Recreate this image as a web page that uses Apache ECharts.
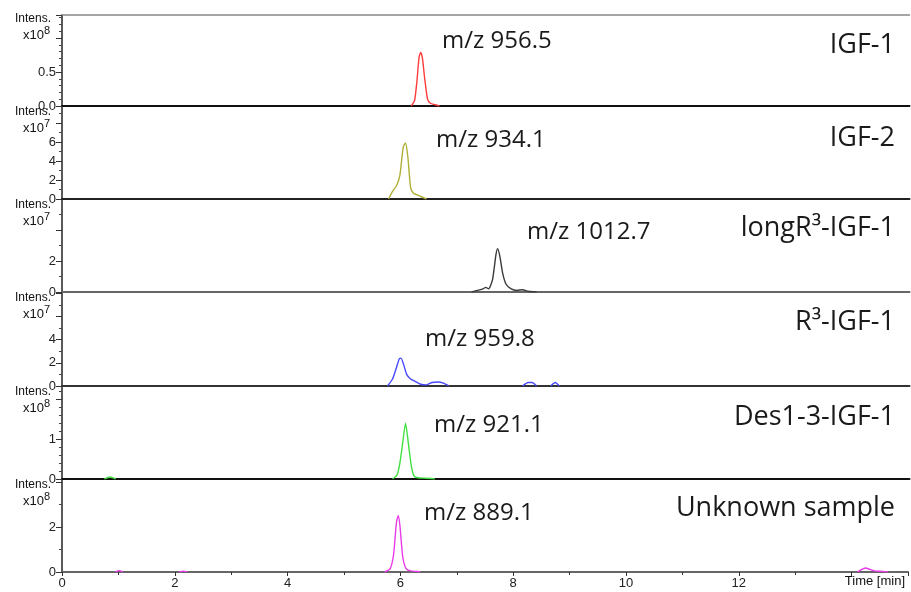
<!DOCTYPE html>
<html><head><meta charset="utf-8">
<script src="https://cdn.jsdelivr.net/npm/echarts@6/dist/echarts.min.js"></script>
<style>html,body{margin:0;padding:0;background:#fff}#c{width:911px;height:592px}</style>
</head><body><div id="c"></div>
<script>
// ---- data ----
const compounds = ['IGF-1', 'IGF-2', 'longR³-IGF-1', 'R³-IGF-1', 'Des1-3-IGF-1', 'Unknown sample'];
const mzLabels = ['m/z 956.5', 'm/z 934.1', 'm/z 1012.7', 'm/z 959.8', 'm/z 921.1', 'm/z 889.1'];
const exponents = ['8', '7', '7', '7', '8', '8'];
const timeMax = 15;
const yMax = [1.34, 9.8, 6.0, 8.1, 2.33, 4.13];
const yInterval = [0.5, 2, 2, 2, 1, 2];
const yLabelMax = [0.5, 6, 2, 4, 1, 2];
const yMinorSplit = [5, 2, 2, 2, 5, 2];

// traces: [time (min), intensity (x10^exp)]
const igf1Peak = [[6.18,0],[6.24,0.08],[6.28,0.35],[6.32,0.72],[6.35,0.79],[6.38,0.7],[6.42,0.4],[6.47,0.1],[6.52,0.04],[6.6,0.02],[6.68,0]];
const igf2Peak = [[5.78,0],[5.85,0.8],[5.92,1.4],[5.98,2.5],[6.04,5.5],[6.08,5.9],[6.12,4.5],[6.17,1.2],[6.22,0.6],[6.3,0.4],[6.45,0]];
const longR3Peak = [[7.25,0],[7.35,0.1],[7.45,0.2],[7.5,0.3],[7.55,0.2],[7.62,0.8],[7.68,2.4],[7.71,2.8],[7.75,2.3],[7.8,1.2],[7.86,0.5],[7.95,0.2],[8.05,0.1],[8.15,0.15],[8.25,0.05],[8.4,0]];
const r3Peak = [[5.76,0],[5.85,0.6],[5.92,1.6],[5.97,2.35],[6.0,2.4],[6.05,1.8],[6.1,1.0],[6.17,0.6],[6.25,0.4],[6.35,0.15],[6.45,0.1],[6.55,0.3],[6.65,0.35],[6.75,0.25],[6.85,0]];
const r3Bump1 = [[8.15,0],[8.25,0.3],[8.32,0.3],[8.4,0]];
const r3Bump2 = [[8.65,0],[8.73,0.3],[8.8,0]];
const des13Peak = [[5.85,0],[5.93,0.1],[5.98,0.4],[6.03,0.9],[6.08,1.4],[6.13,0.9],[6.18,0.35],[6.23,0.08],[6.3,0.03],[6.45,0.02],[6.6,0]];
const des13Bump = [[0.75,0],[0.85,0.05],[0.95,0]];
const unknownPeak = [[5.72,0],[5.82,0.15],[5.88,0.8],[5.93,2.2],[5.96,2.5],[5.99,2.1],[6.04,0.7],[6.1,0.15],[6.18,0.05],[6.3,0.02],[6.35,0]];
const unknownBump1 = [[0.95,0],[1.01,0.06],[1.08,0]];
const unknownBump2 = [[2.08,0],[2.15,0.04],[2.22,0]];
const unknownBump3 = [[14.1,0],[14.25,0.18],[14.4,0.05],[14.55,0.03],[14.65,0]];

const panelTraces = [
  [igf1Peak],
  [igf2Peak],
  [longR3Peak],
  [r3Peak, r3Bump1, r3Bump2],
  [des13Peak, des13Bump],
  [unknownPeak, unknownBump1, unknownBump2, unknownBump3]
];

// ---- styling / layout ----
const colors = ['#ff3b3b', '#b0b038', '#3a3a3a', '#4848ff', '#3fe03f', '#e83ce8'];
const tops = [15, 106, 199, 292, 386, 479];
const bottoms = [106, 199, 292, 386, 479, 572];
const baseColors = ['#111', '#222', '#666', '#333', '#111', '#666'];
const L = 62, R = 1.5;

const grids = [], xAxes = [], yAxes = [], series = [], graphics = [];
for (let i = 0; i < 6; i++) {
  grids.push({ left: L, right: R, top: tops[i], height: bottoms[i] - tops[i] });
  const last = i === 5;
  xAxes.push({
    type: 'value', gridIndex: i, min: 0, max: timeMax, interval: 2,
    axisLine: { show: true, onZero: false, lineStyle: { color: baseColors[i], width: 2 } },
    axisTick: { show: last, length: 4, lineStyle: { color: '#333' } },
    minorTick: { show: last, splitNumber: 2, length: 3, lineStyle: { color: '#333' } },
    axisLabel: { show: last, color: '#222', fontFamily: 'Liberation Sans, Arial', fontSize: 13, margin: 5,
      formatter: v => (v >= 14 ? '' : String(v)) },
    splitLine: { show: false }
  });
  const idx = i;
  yAxes.push({
    type: 'value', gridIndex: i, min: 0, max: yMax[i], interval: yInterval[i],
    axisLine: { show: true, lineStyle: { color: '#222', width: 1.5 } },
    axisTick: { show: true, length: 6, lineStyle: { color: '#333' } },
    minorTick: { show: true, splitNumber: yMinorSplit[i], length: 3, lineStyle: { color: '#444' } },
    axisLabel: { color: '#222', fontFamily: 'Liberation Sans, Arial', fontSize: 13, margin: 6,
      showMaxLabel: false,
      formatter: v => (v > yLabelMax[idx] + 1e-9 ? '' : (idx === 0 ? v.toFixed(1) : String(v))) },
    splitLine: { show: false }
  });
  panelTraces[i].forEach(seg => {
    series.push({
      type: 'line', xAxisIndex: i, yAxisIndex: i, data: seg, showSymbol: false,
      smooth: 0.2, lineStyle: { color: colors[i], width: 1.4 }, itemStyle: { color: colors[i] },
      silent: true, z: 3
    });
  });
  const t = tops[i];
  const off = i === 0 ? 0 : 2;
  graphics.push({ type: 'text', style: { text: 'Intens.', x: 51, y: t + 4 + off, textAlign: 'right', textVerticalAlign: 'middle',
    font: '12px "Liberation Sans", Arial', fill: '#111' } });
  graphics.push({ type: 'text', style: { text: 'x10', x: 44, y: t + 20 + off, textAlign: 'right', textVerticalAlign: 'middle',
    font: '13px "Liberation Sans", Arial', fill: '#111' } });
  graphics.push({ type: 'text', style: { text: exponents[i], x: 44, y: t + 16 + off, textAlign: 'left', textVerticalAlign: 'middle',
    font: '11px "Liberation Sans", Arial', fill: '#111' } });
}
// top frame line
xAxes.push({
  type: 'value', gridIndex: 0, min: 0, max: timeMax, position: 'top',
  axisLine: { show: true, onZero: false, lineStyle: { color: '#888', width: 1.5 } },
  axisTick: { show: false }, axisLabel: { show: false }, splitLine: { show: false }
});

const mzPos = [[442, 41], [436, 140], [527, 232], [425, 339], [434, 425], [424, 513]];
const namePos = [45, 138, 228, 322, 417, 508];
for (let i = 0; i < 6; i++) {
  graphics.push({ type: 'text', style: { text: mzLabels[i], x: mzPos[i][0], y: mzPos[i][1], textAlign: 'left', textVerticalAlign: 'middle',
    font: '24px "Open Sans"', fill: '#1a1a1a' } });
  graphics.push({ type: 'text', style: { text: compounds[i], x: 895, y: namePos[i], textAlign: 'right', textVerticalAlign: 'middle',
    font: '27px "Open Sans"', fill: '#1a1a1a' } });
}
graphics.push({ type: 'text', style: { text: 'Time [min]', x: 905, y: 581, textAlign: 'right', textVerticalAlign: 'middle',
  font: '13px "Liberation Sans", Arial', fill: '#111' } });

const chart = echarts.init(document.getElementById('c'), null, { renderer: 'canvas' });
chart.setOption({
  animation: false,
  backgroundColor: '#fff',
  grid: grids, xAxis: xAxes, yAxis: yAxes, series: series, graphic: graphics
});
</script>
</body></html>
